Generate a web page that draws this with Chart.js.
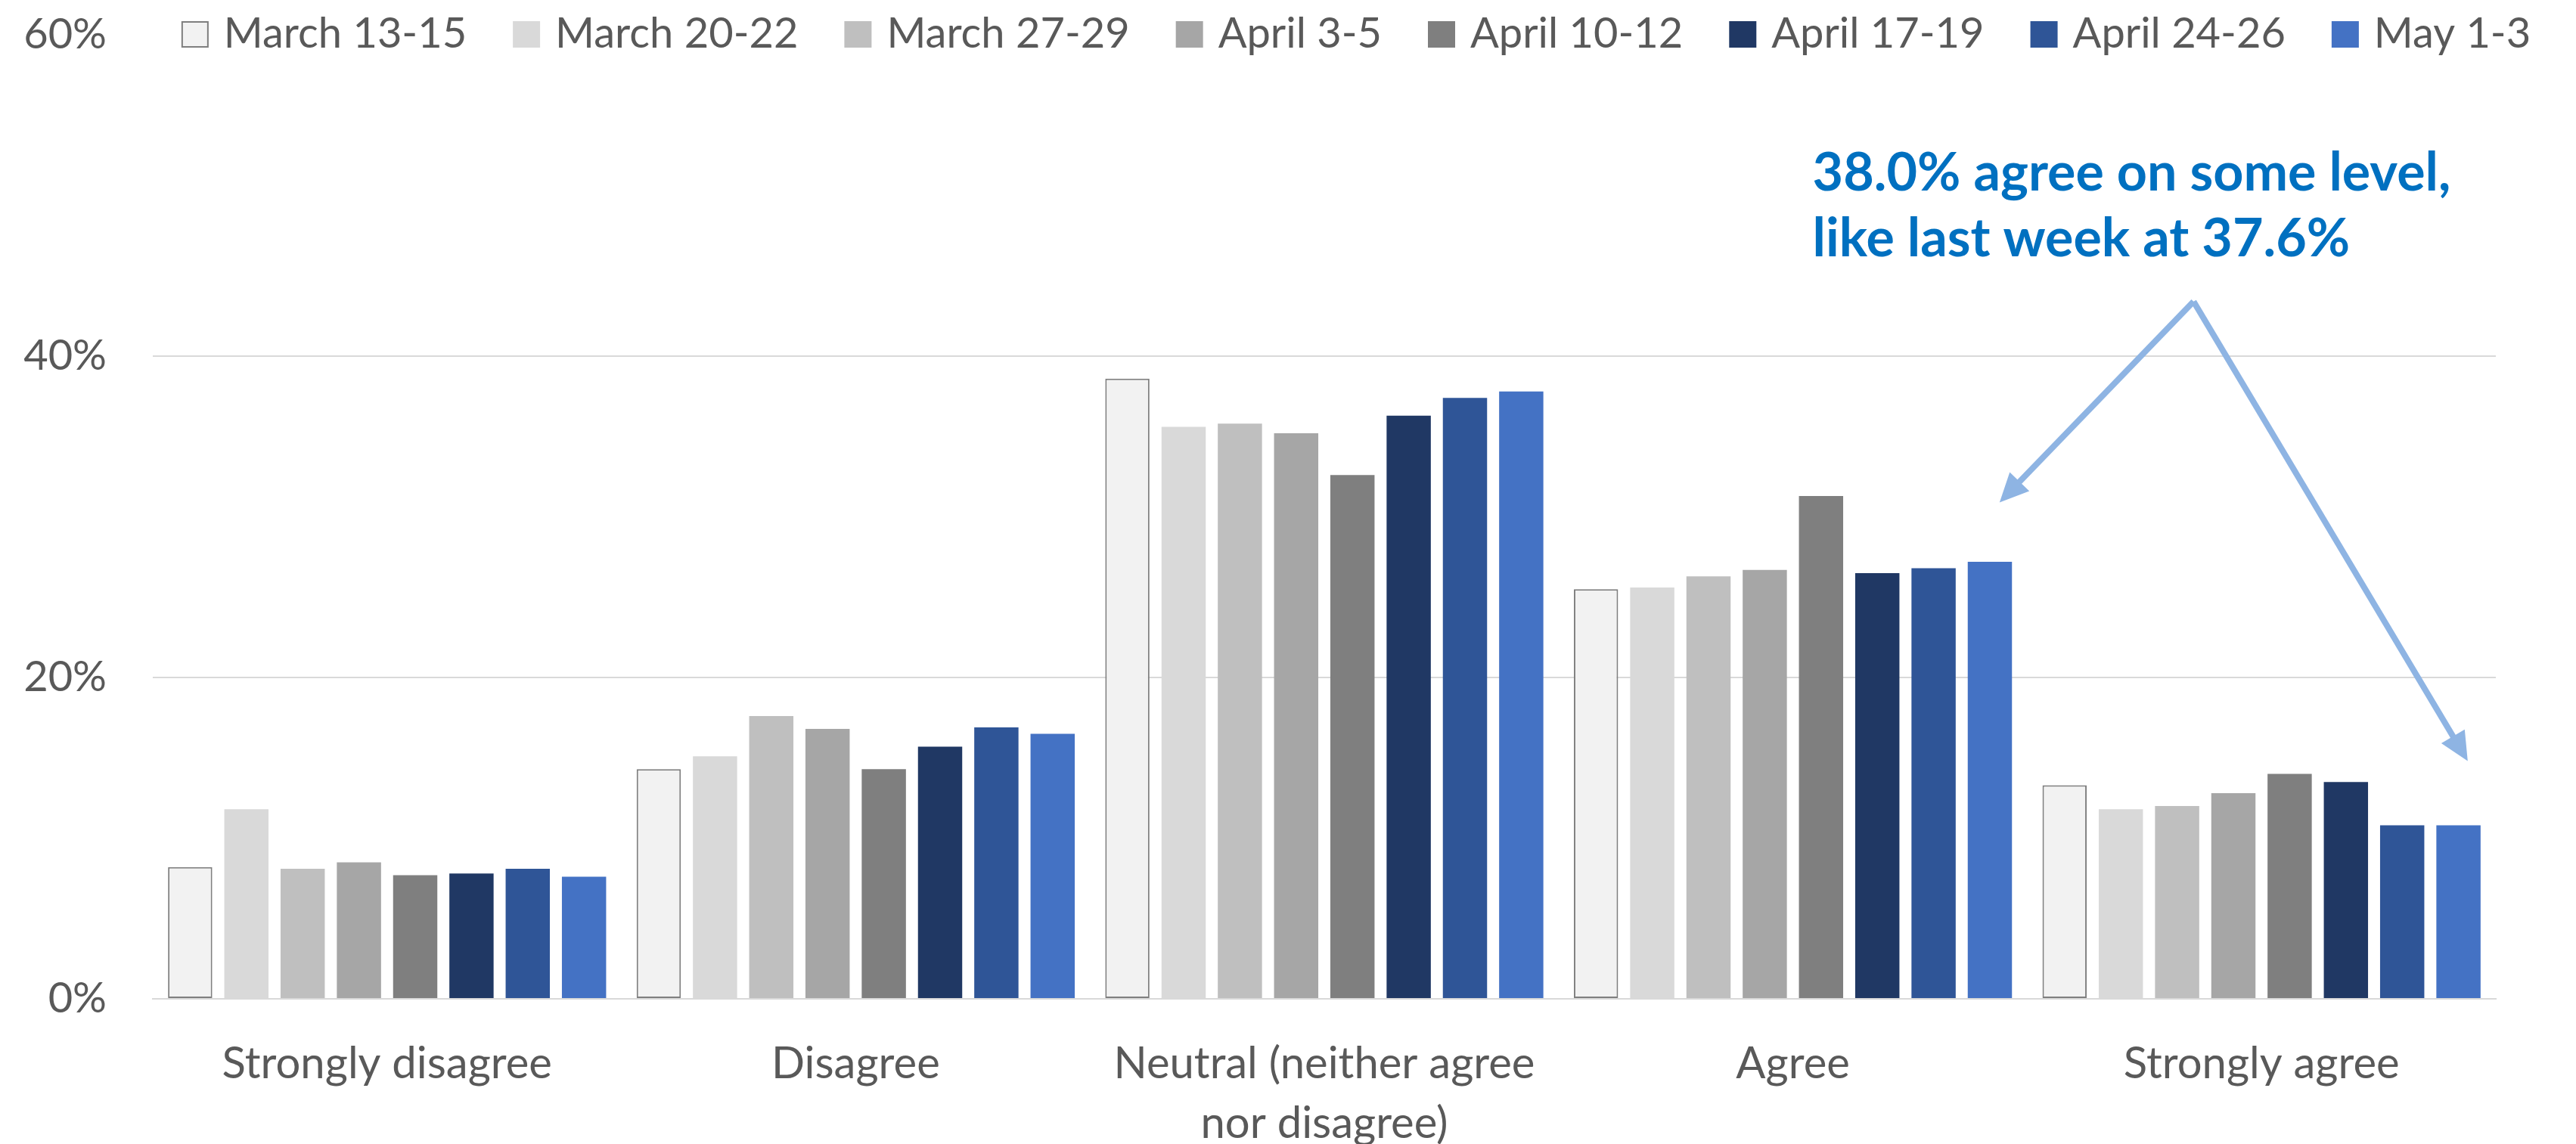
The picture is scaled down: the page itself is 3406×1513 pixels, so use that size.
<!DOCTYPE html>
<html>
<head>
<meta charset="utf-8">
<title>Agreement by survey wave</title>
<script src="https://cdn.jsdelivr.net/npm/chart.js@4.4.1/dist/chart.umd.min.js"></script>
<style>
  html, body { margin: 0; padding: 0; background: #ffffff; }
  #wrap { width: 3406px; height: 1513px; position: relative; }
</style>
</head>
<body>
<div id="wrap"><canvas id="chart"></canvas></div>
<script>
// ---- data ----
const categories = [
  'Strongly disagree',
  'Disagree',
  ['Neutral (neither agree', 'nor disagree)'],
  'Agree',
  'Strongly agree'
];
const waveNames = ['March 13-15', 'March 20-22', 'March 27-29', 'April 3-5',
                   'April 10-12', 'April 17-19', 'April 24-26', 'May 1-3'];

const march13to15 = [8.2, 14.3, 38.6, 25.5, 13.3];
const march20to22 = [11.8, 15.1, 35.6, 25.6, 11.8];
const march27to29 = [8.1, 17.6, 35.8, 26.3, 12.0];
const april3to5   = [8.5, 16.8, 35.2, 26.7, 12.8];
const april10to12 = [7.7, 14.3, 32.6, 31.3, 14.0];
const april17to19 = [7.8, 15.7, 36.3, 26.5, 13.5];
const april24to26 = [8.1, 16.9, 37.4, 26.8, 10.8];
const may1to3     = [7.6, 16.5, 37.8, 27.2, 10.8];

const waveValues = [march13to15, march20to22, march27to29, april3to5,
                    april10to12, april17to19, april24to26, may1to3];

const yTicks = [0, 20, 40, 60];
const noteLines = ['38.0% agree on some level,', 'like last week at 37.6%'];

// ---- styles ----
const palette = ['#F2F2F2', '#D9D9D9', '#BFBFBF', '#A6A6A6',
                 '#7F7F7F', '#203864', '#2F5597', '#4472C4'];
const textGray = '#595959';
const gridGray = '#D9D9D9';
const FONT = 'Lato, "Open Sans", sans-serif';

const datasets = waveNames.map((name, i) => ({
  label: name,
  data: waveValues[i],
  backgroundColor: palette[i],
  borderColor: i === 0 ? '#7F7F7F' : palette[i],
  borderWidth: i === 0 ? 2 : 0,
  borderSkipped: false,
  categoryPercentage: 0.9606,
  barPercentage: 0.786
}));

// Legend row drawn across the top, overlapping the plot area
const topLegend = {
  id: 'topLegend',
  afterDraw(chart) {
    const ctx = chart.ctx, ca = chart.chartArea;
    const box = 36, boxH = 35, gapText = 20, gapItem = 61;
    ctx.save();
    ctx.font = '56px ' + FONT;
    const items = chart.data.datasets.map(ds => ({
      text: ds.label,
      w: ctx.measureText(ds.label).width,
      fill: ds.backgroundColor,
      stroke: ds.borderWidth ? ds.borderColor : null
    }));
    const total = items.reduce((s, it) => s + box + gapText + it.w, 0) + gapItem * (items.length - 1);
    let x = (ca.left + ca.right) / 2 + 42 - total / 2;
    const boxTop = ca.top - 18;
    const baseline = ca.top + 17;
    ctx.textBaseline = 'alphabetic';
    ctx.textAlign = 'left';
    items.forEach(it => {
      ctx.fillStyle = it.fill;
      ctx.fillRect(x, boxTop, box, boxH);
      if (it.stroke) {
        ctx.strokeStyle = it.stroke;
        ctx.lineWidth = 2;
        ctx.strokeRect(x + 1, boxTop + 1, box - 2, boxH - 2);
      }
      ctx.fillStyle = textGray;
      ctx.fillText(it.text, x + box + gapText, baseline);
      x += box + gapText + it.w + gapItem;
    });
    ctx.restore();
  }
};

// Call-out text with two arrows pointing at the agree groups
const callout = {
  id: 'callout',
  afterDraw(chart) {
    const ctx = chart.ctx, xs = chart.scales.x, ys = chart.scales.y;
    const P = (cx, v) => ({ x: xs.getPixelForValue(cx), y: ys.getPixelForValue(v) });
    ctx.save();
    ctx.font = 'bold 70px ' + FONT;
    ctx.fillStyle = '#0070C0';
    ctx.textAlign = 'left';
    ctx.textBaseline = 'alphabetic';
    const t1 = P(3.042, 50.3), t2 = P(3.042, 46.2);
    ctx.fillText(noteLines[0], t1.x, t1.y);
    ctx.fillText(noteLines[1], t2.x, t2.y);
    const apex = P(3.855, 43.4);
    const tips = [P(3.441, 30.9), P(4.440, 14.8)];
    const color = '#8EB4E3';
    const headLen = 38, headHalf = 18;
    tips.forEach(tip => {
      const dx = tip.x - apex.x, dy = tip.y - apex.y;
      const len = Math.hypot(dx, dy);
      const ux = dx / len, uy = dy / len;
      const bx = tip.x - ux * headLen, by = tip.y - uy * headLen;
      ctx.strokeStyle = color;
      ctx.lineWidth = 8;
      ctx.lineCap = 'butt';
      ctx.beginPath();
      ctx.moveTo(apex.x, apex.y);
      ctx.lineTo(bx + ux * 4, by + uy * 4);
      ctx.stroke();
      ctx.fillStyle = color;
      ctx.beginPath();
      ctx.moveTo(tip.x, tip.y);
      ctx.lineTo(bx - uy * headHalf, by + ux * headHalf);
      ctx.lineTo(bx + uy * headHalf, by - ux * headHalf);
      ctx.closePath();
      ctx.fill();
    });
    ctx.restore();
  }
};

new Chart(document.getElementById('chart'), {
  type: 'bar',
  data: { labels: categories, datasets },
  options: {
    responsive: true,
    maintainAspectRatio: false,
    animation: false,
    devicePixelRatio: 1,
    layout: { padding: { top: 46, right: 106, bottom: 0, left: 0 } },
    plugins: {
      legend: { display: false },
      tooltip: { enabled: false }
    },
    scales: {
      x: {
        grid: { display: false, drawTicks: false },
        border: { display: true, color: gridGray, width: 2 },
        ticks: {
          color: textGray,
          padding: 47,
          maxRotation: 0,
          autoSkip: false,
          font: { family: FONT, size: 58, lineHeight: 1.36 }
        },
        afterFit(s) { s.height = 192; }
      },
      y: {
        min: 0,
        max: 60,
        afterBuildTicks(s) { s.ticks = yTicks.map(v => ({ value: v })); },
        grid: {
          drawTicks: false,
          lineWidth: 2,
          color: c => (c.tick && c.tick.value === 60) ? 'rgba(0,0,0,0)' : gridGray
        },
        border: { display: false },
        ticks: {
          color: textGray,
          padding: 61,
          font: { family: FONT, size: 56 },
          callback: v => v + '%'
        },
        afterFit(s) {
          s.width = 202;
          s.paddingTop = 0;
          s.paddingBottom = 0;
        }
      }
    }
  },
  plugins: [topLegend, callout]
});
</script>
</body>
</html>
